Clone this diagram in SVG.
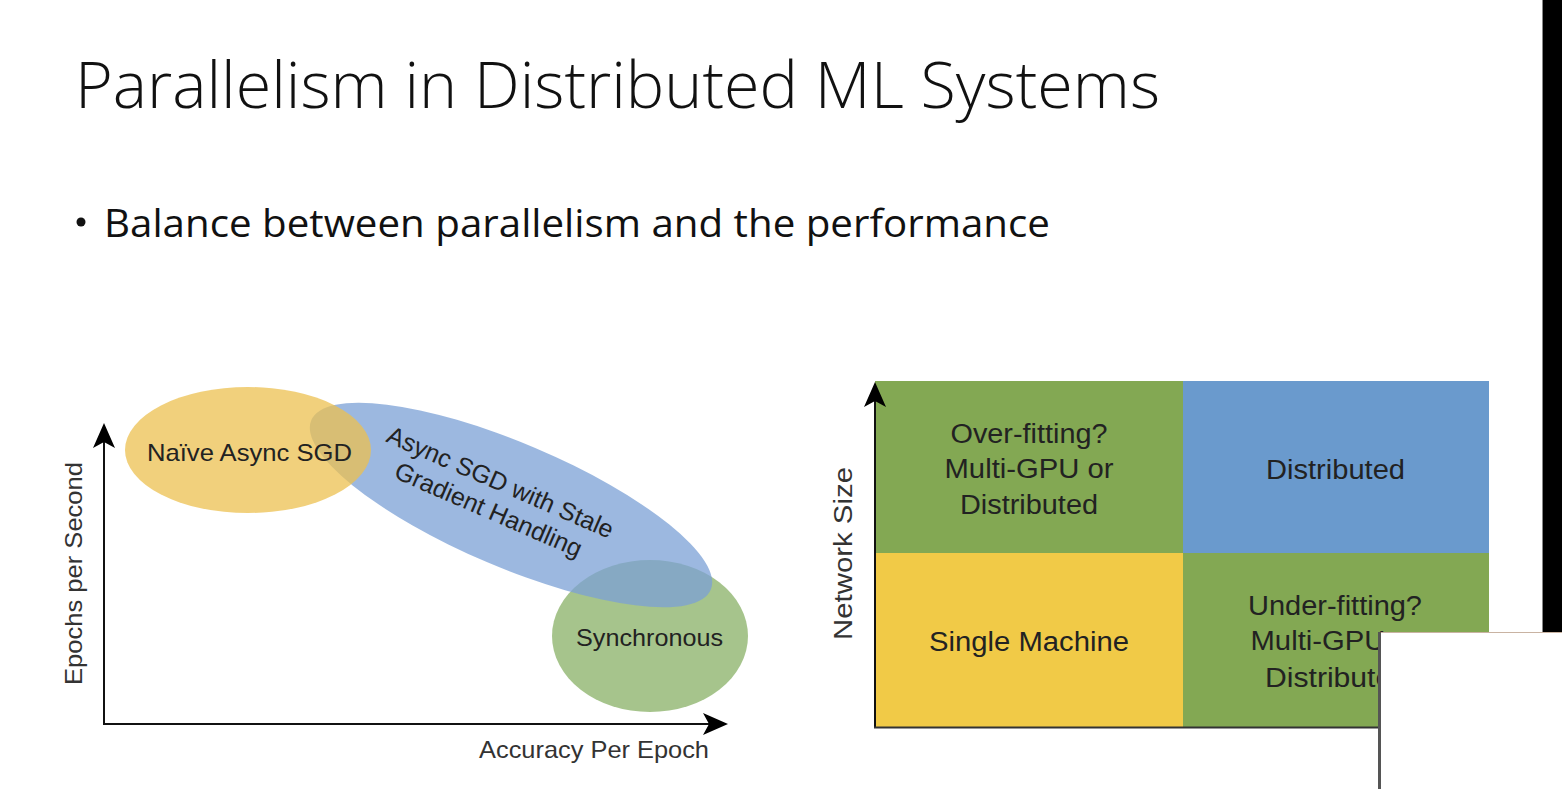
<svg xmlns="http://www.w3.org/2000/svg" width="1562" height="789" viewBox="0 0 1562 789">
  <defs>
    <style>
      .title { font-family: "Open Sans", "Liberation Sans", sans-serif; font-weight: 300; fill: #111; }
      .bullet { font-family: "Open Sans", "Liberation Sans", sans-serif; font-weight: 400; fill: #111; }
      .lbl { font-family: "Liberation Sans", Arial, sans-serif; fill: #222; text-anchor: middle; }
      .axis-lbl { font-family: "Liberation Sans", Arial, sans-serif; fill: #333; text-anchor: middle; }
      .axis { stroke: #111; stroke-width: 2; fill: none; marker-end: url(#arrow); }
      .blob { opacity: 0.75; }
    </style>
    <marker id="arrow" markerUnits="userSpaceOnUse" markerWidth="26" markerHeight="24" refX="6" refY="12" orient="auto" viewBox="0 0 26 24">
      <path d="M0,1 L25,12 L0,23 L6,12 Z" fill="#000"/>
    </marker>
  </defs>

  <rect width="1562" height="789" fill="#fff"/>

  <!-- Slide heading -->
  <text class="title" x="75" y="108" font-size="64" textLength="1085" lengthAdjust="spacingAndGlyphs">Parallelism in Distributed ML Systems</text>
  <circle cx="81" cy="222" r="4.5" fill="#111"/>
  <text class="bullet" x="104" y="237" font-size="38" textLength="946" lengthAdjust="spacingAndGlyphs">Balance between parallelism and the performance</text>

  <!-- Left chart: accuracy vs. throughput -->
  <g id="left-chart">
    <g id="node-synchronous">
      <ellipse class="blob" cx="650" cy="636" rx="98" ry="76" fill="#88b066"/>
    </g>
    <g id="node-stale-async">
      <ellipse class="blob" cx="511" cy="505" rx="217" ry="62" fill="#7ba0d6" transform="rotate(23 511 505)"/>
    </g>
    <g id="node-naive-async">
      <ellipse class="blob" cx="248" cy="450" rx="123" ry="63" fill="#ecc050"/>
    </g>
    <text class="lbl" x="249.5" y="461" font-size="24" textLength="205" lengthAdjust="spacingAndGlyphs">Naïve Async SGD</text>
    <g transform="translate(497 490) rotate(23.5)">
      <text class="lbl" x="0" y="0" font-size="25">Async SGD with Stale</text>
      <text class="lbl" x="0" y="30" font-size="25">Gradient Handling</text>
    </g>
    <text class="lbl" x="649.5" y="646" font-size="24" textLength="147" lengthAdjust="spacingAndGlyphs">Synchronous</text>
    <text class="axis-lbl" x="594" y="758" font-size="24" textLength="230" lengthAdjust="spacingAndGlyphs">Accuracy Per Epoch</text>
    <text class="axis-lbl" transform="translate(82 573.5) rotate(-90)" font-size="24" textLength="223" lengthAdjust="spacingAndGlyphs">Epochs per Second</text>
  </g>

  <!-- Right chart: network size quadrants -->
  <g id="right-chart">
    <g id="node-overfitting">
      <rect x="875" y="381" width="308" height="172" fill="#83a853"/>
      <text class="lbl" x="1029" y="443" font-size="27" textLength="157" lengthAdjust="spacingAndGlyphs">Over-fitting?</text>
      <text class="lbl" x="1029" y="478" font-size="27" textLength="169" lengthAdjust="spacingAndGlyphs">Multi-GPU or</text>
      <text class="lbl" x="1029" y="514" font-size="27" textLength="138" lengthAdjust="spacingAndGlyphs">Distributed</text>
    </g>
    <g id="node-distributed">
      <rect x="1183" y="381" width="306" height="172" fill="#6a9acd"/>
      <text class="lbl" x="1335.5" y="479" font-size="27" textLength="139" lengthAdjust="spacingAndGlyphs">Distributed</text>
    </g>
    <g id="node-single-machine">
      <rect x="875" y="553" width="308" height="174" fill="#f1ca47"/>
      <text class="lbl" x="1029" y="651" font-size="27" textLength="200" lengthAdjust="spacingAndGlyphs">Single Machine</text>
    </g>
    <g id="node-underfitting">
      <rect x="1183" y="553" width="306" height="174" fill="#83a853"/>
      <text class="lbl" x="1335" y="615" font-size="27" textLength="174" lengthAdjust="spacingAndGlyphs">Under-fitting?</text>
      <text class="lbl" x="1335" y="650" font-size="27" textLength="169" lengthAdjust="spacingAndGlyphs">Multi-GPU or</text>
      <text class="lbl" x="1337" y="687" font-size="27" textLength="144" lengthAdjust="spacingAndGlyphs">Distributed</text>
    </g>
    <text class="axis-lbl" transform="translate(852 553.5) rotate(-90)" font-size="25" textLength="173" lengthAdjust="spacingAndGlyphs">Network Size</text>
  </g>

  <!-- Axes -->
  <g id="connectors">
    <line class="axis" x1="104" y1="724" x2="104" y2="442"/>
    <line class="axis" x1="103" y1="724" x2="709" y2="724"/>
    <line class="axis" x1="875" y1="728" x2="875" y2="401"/>
    <line x1="874" y1="727.5" x2="1489" y2="727.5" stroke="#333" stroke-width="2"/>
  </g>

  <!-- Screen-capture overlays at the right edge -->
  <rect x="1543" y="0" width="19" height="633" fill="#000"/>
  <line x1="1542.5" y1="0" x2="1542.5" y2="633" stroke="#888" stroke-width="1"/>
  <rect x="1378" y="632" width="184" height="157" fill="#fff"/>
  <line x1="1378" y1="632.5" x2="1562" y2="632.5" stroke="#c9b3a2" stroke-width="1"/>
  <line x1="1379.5" y1="632" x2="1379.5" y2="789" stroke="#555" stroke-width="3"/>
</svg>
